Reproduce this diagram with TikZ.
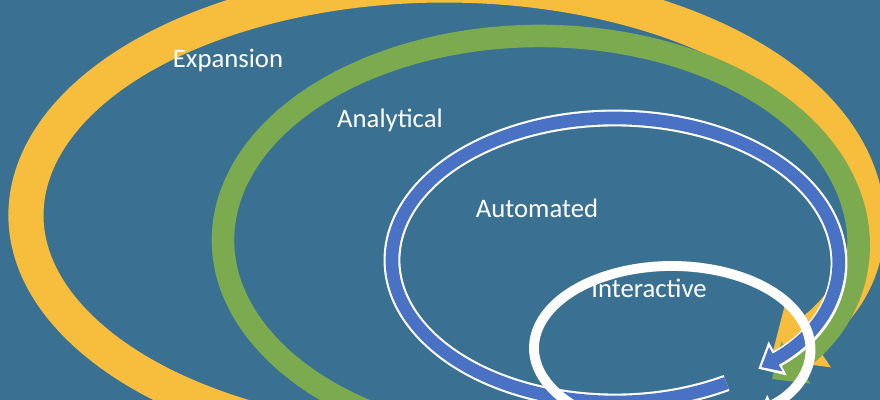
\documentclass[tikz,border=0pt]{standalone}
\usepackage{fontspec}
\setmainfont{Carlito}
\usetikzlibrary{arrows.meta}
\definecolor{bgblue}{HTML}{3A7192}
\definecolor{ringyellow}{HTML}{F6BE3C}
\definecolor{ringgreen}{HTML}{7BAA4F}
\definecolor{ringblue}{HTML}{4A72C4}
\tikzset{
  ring/.style={line width=#1, -{Triangle[length=0pt 1.3, width=0pt 2.2]}},
  label/.style={text=white, font=\fontsize{19}{22}\selectfont},
}
\begin{document}
\begin{tikzpicture}[x=0.025cm, y=0.025cm]
  \fill[bgblue] (0,0) rectangle (880,400);
  \useasboundingbox (0,0) rectangle (880,400);
  \clip (0,0) rectangle (880,400);

  % Centres
  \coordinate (cexp) at (445,185);
  \coordinate (cana) at (540,160);
  \coordinate (caut) at (615,140);
  \coordinate (cint) at (672,52);

  % Rings
  \draw[ring=25pt, ringyellow] (cexp) ++(-60:419 and 230) arc[start angle=-60, end angle=-399, x radius=419, y radius=230];
  \draw[ring=16pt, ringgreen] (cana) ++(-60:317 and 204) arc[start angle=-60, end angle=-403, x radius=317, y radius=204];
  \draw[ring=12pt, white] (caut) ++(-60:223 and 142) arc[start angle=-60, end angle=-410, x radius=223, y radius=142];
  \draw[line width=9pt, ringblue, -{Triangle[length=0pt 1.3, width=0pt 2.1]}] (caut) ++(-60:223 and 142) arc[start angle=-60, end angle=-409, x radius=223, y radius=142];
  \draw[ring=7pt, white] (cint) ++(-62:138 and 82) arc[start angle=-62, end angle=-410, x radius=138, y radius=82];

  % Labels
  \node[label] (expansion) at (228,340) {Expansion};
  \node[label] (analytical) at (390,280) {Analytical};
  \node[label] (automated) at (537,192) {Automated};
  \node[label] (interactive) at (649,112) {Interactive};
\end{tikzpicture}
\end{document}
